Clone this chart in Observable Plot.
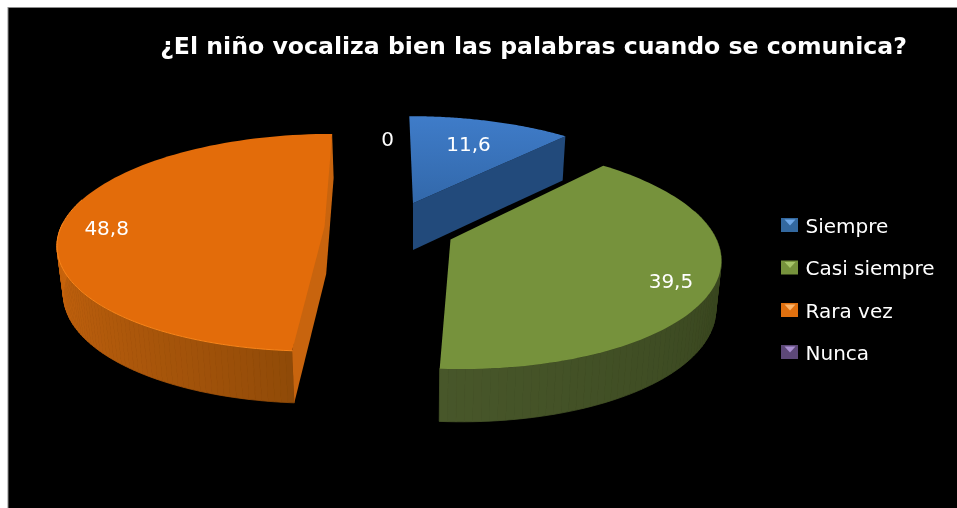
<!DOCTYPE html>
<html><head><meta charset="utf-8">
<style>html,body{margin:0;padding:0;background:#fff;overflow:hidden}svg{display:block}svg text{filter:blur(0.35px)}</style>
<script src="https://cdn.jsdelivr.net/npm/d3@7"></script>
<script src="https://cdn.jsdelivr.net/npm/@observablehq/plot@0.6"></script>
</head><body><div id="c"></div>
<script>
const titleText = "¿El niño vocaliza bien las palabras cuando se comunica?";
const categories = ["Siempre", "Casi siempre", "Rara vez", "Nunca"];
const values = [11.6, 39.5, 48.8, 0];

// styling
const topColors  = ["#3a74bd", "#76923c", "#e36c0a", "#604a7b"];
const legendTips = ["#6fa8e8", "#a6c468", "#fbb46a", "#a98fd0"];
const legendCols = ["#33689f", "#76923c", "#e0700f", "#5d4878"];
const sideFrom   = ["#224a7b", "#2f3b18", "#8f4a08", "#403152"];
const sideTo     = ["#224a7b", "#48572a", "#cc660e", "#403152"];
// perspective: vanishing point + each exploded slice's position on the plane
const vx = 383, vy = -495, H = 734, K = 0.15;
const sliceGeom = [
  {xc: 31, w0: 1.052, R: 271},
  {xc: 67, w0: 1, R: 266},
  {xc: -60, w0: 1.018, R: 268},
  {xc: 31, w0: 1.052, R: 271}
];
const labelPlace = [{a: 0, r: 0.69}, {a: 2, r: 0.85}, {a: -3.4, r: 0.825}, {a: -7.8, r: 0.71}];

const total = d3.sum(values);
let acc = 0;
const slices = values.map((v, i) => {
  const start = acc / total * 360; acc += v;
  return {i, v, start, end: acc / total * 360, ...sliceGeom[i]};
});
const rad = d => d * Math.PI / 180;
function project(s, deg, r = 1) {
  const X = s.xc + r * s.R * Math.sin(rad(deg));
  const w = s.w0 + r * K * Math.cos(rad(deg));
  const f = 1 / w;
  return {x: vx + X * f, y: vy + H * f, d: 21 + 27 * f};
}
const arc = (s, a0, a1, n = 60) => d3.range(n + 1).map(k => project(s, a0 + (a1 - a0) * k / n));
// the lower rim of the pie lies slightly further from the viewer
const down = p => ({x: p.x + 0.018 * (415 - p.x), y: p.y + p.d});

const sideQuads = [], faces = [], cuts = [];
for (const s of slices) {
  if (s.v === 0) continue;
  // outer wall, only the part facing the viewer
  const a0 = Math.max(s.start, 75), a1 = Math.min(s.end, 272);
  if (a1 > a0) {
    const pts = arc(s, a0, a1, 70);
    for (let k = 0; k < 70; k++) {
      const c = d3.interpolateRgb(sideFrom[s.i], sideTo[s.i])(Math.pow(k / 70, 0.8));
      [pts[k], pts[k + 1], down(pts[k + 1]), down(pts[k]), pts[k]].forEach(p => sideQuads.push({...p, id: `${s.i}-${k}`, c}));
    }
  }
  const apex = project(s, 0, 0);
  arc(s, s.start, s.end, 90).concat([apex]).forEach(p => faces.push({...p, id: s.i, c: s.i === 0 ? "url(#blueTop)" : topColors[s.i]}));
}
// cut faces visible from the viewer
const [blue, green, orange] = slices;
{
  const a = project(blue, 0, 0), b = project(blue, blue.end);
  [a, b, down(b), down(a)].forEach(p => cuts.push({...p, id: "b", c: "#224a7b"}));
  const back = project(orange, orange.end), front = project(orange, orange.start), ap = project(orange, 0, 0);
  [back, front, down(front), down(ap), down(back)].forEach(p => cuts.push({...p, id: "o", c: "#c8640e"}));
}
const rim = arc(orange, orange.start, 285, 60);
const labels = slices.map(s => {
  const l = labelPlace[s.i];
  const p = project(s, (s.v === 0 ? 0 : (s.start + s.end) / 2) + l.a, l.r);
  return {...p, t: String(s.v).replace(".", ",")};
});
const legendY = [226, 268.5, 311, 353];
const legend = categories.map((name, i) => ({name, y: legendY[i], c: legendCols[i], tip: legendTips[i]}));
const tips = legend.flatMap((l, i) => [
  {x: 784, y: l.y - 7, id: i, c: l.tip}, {x: 795, y: l.y - 7, id: i, c: l.tip}, {x: 789.5, y: l.y - 1, id: i, c: l.tip}
]);
const font = "'DejaVu Sans', sans-serif";

const chart = Plot.plot({
  width: 957, height: 508, margin: 0,
  x: {type: "linear", domain: [0, 957], range: [0, 957], axis: null},
  y: {type: "linear", domain: [0, 508], range: [0, 508], axis: null},
  color: {type: "identity"},
  style: {background: "#fff", fontFamily: font},
  marks: [
    Plot.rect([{}], {x1: () => 8, x2: () => 958, y1: () => 7.5, y2: () => 509, fill: "#000", stroke: "#8c8c8c", strokeWidth: 1}),
    () => {
      const defs = d3.create("svg:defs");
      const g = defs.append("linearGradient").attr("id", "blueTop").attr("x1", 0).attr("x2", 0).attr("y1", 0).attr("y2", 1);
      g.append("stop").attr("offset", "0%").attr("stop-color", "#3f7cc9");
      g.append("stop").attr("offset", "100%").attr("stop-color", "#3268aa");
      return defs.node();
    },
    Plot.line(sideQuads, {x: "x", y: "y", z: "id", fill: "c", stroke: "c", strokeWidth: 0.8}),
    Plot.line(cuts, {x: "x", y: "y", z: "id", fill: "c"}),
    Plot.line(faces, {x: "x", y: "y", z: "id", fill: "c"}),
    Plot.line(rim, {x: "x", y: "y", stroke: "#f9851a", strokeWidth: 1}),
    Plot.text(labels, {x: "x", y: "y", text: "t", fill: "#fff", fontSize: 20, fontFamily: font, style: "letter-spacing:1.5px"}),
    Plot.text([titleText], {x: () => 533, y: () => 46, text: d => d, fill: "#fff", fontSize: 23.6, fontWeight: 700, fontFamily: font}),
    Plot.rect(legend, {x1: () => 781, x2: () => 798, y1: d => d.y - 8, y2: d => d.y + 6, fill: "c"}),
    Plot.line(tips, {x: "x", y: "y", z: "id", fill: "c"}),
    Plot.text(legend, {x: () => 805, y: "y", text: "name", fill: "#fff", fontSize: 20, textAnchor: "start", fontFamily: font, style: "letter-spacing:1.9px"})
  ]
});
document.getElementById("c").append(chart);
</script></body></html>
